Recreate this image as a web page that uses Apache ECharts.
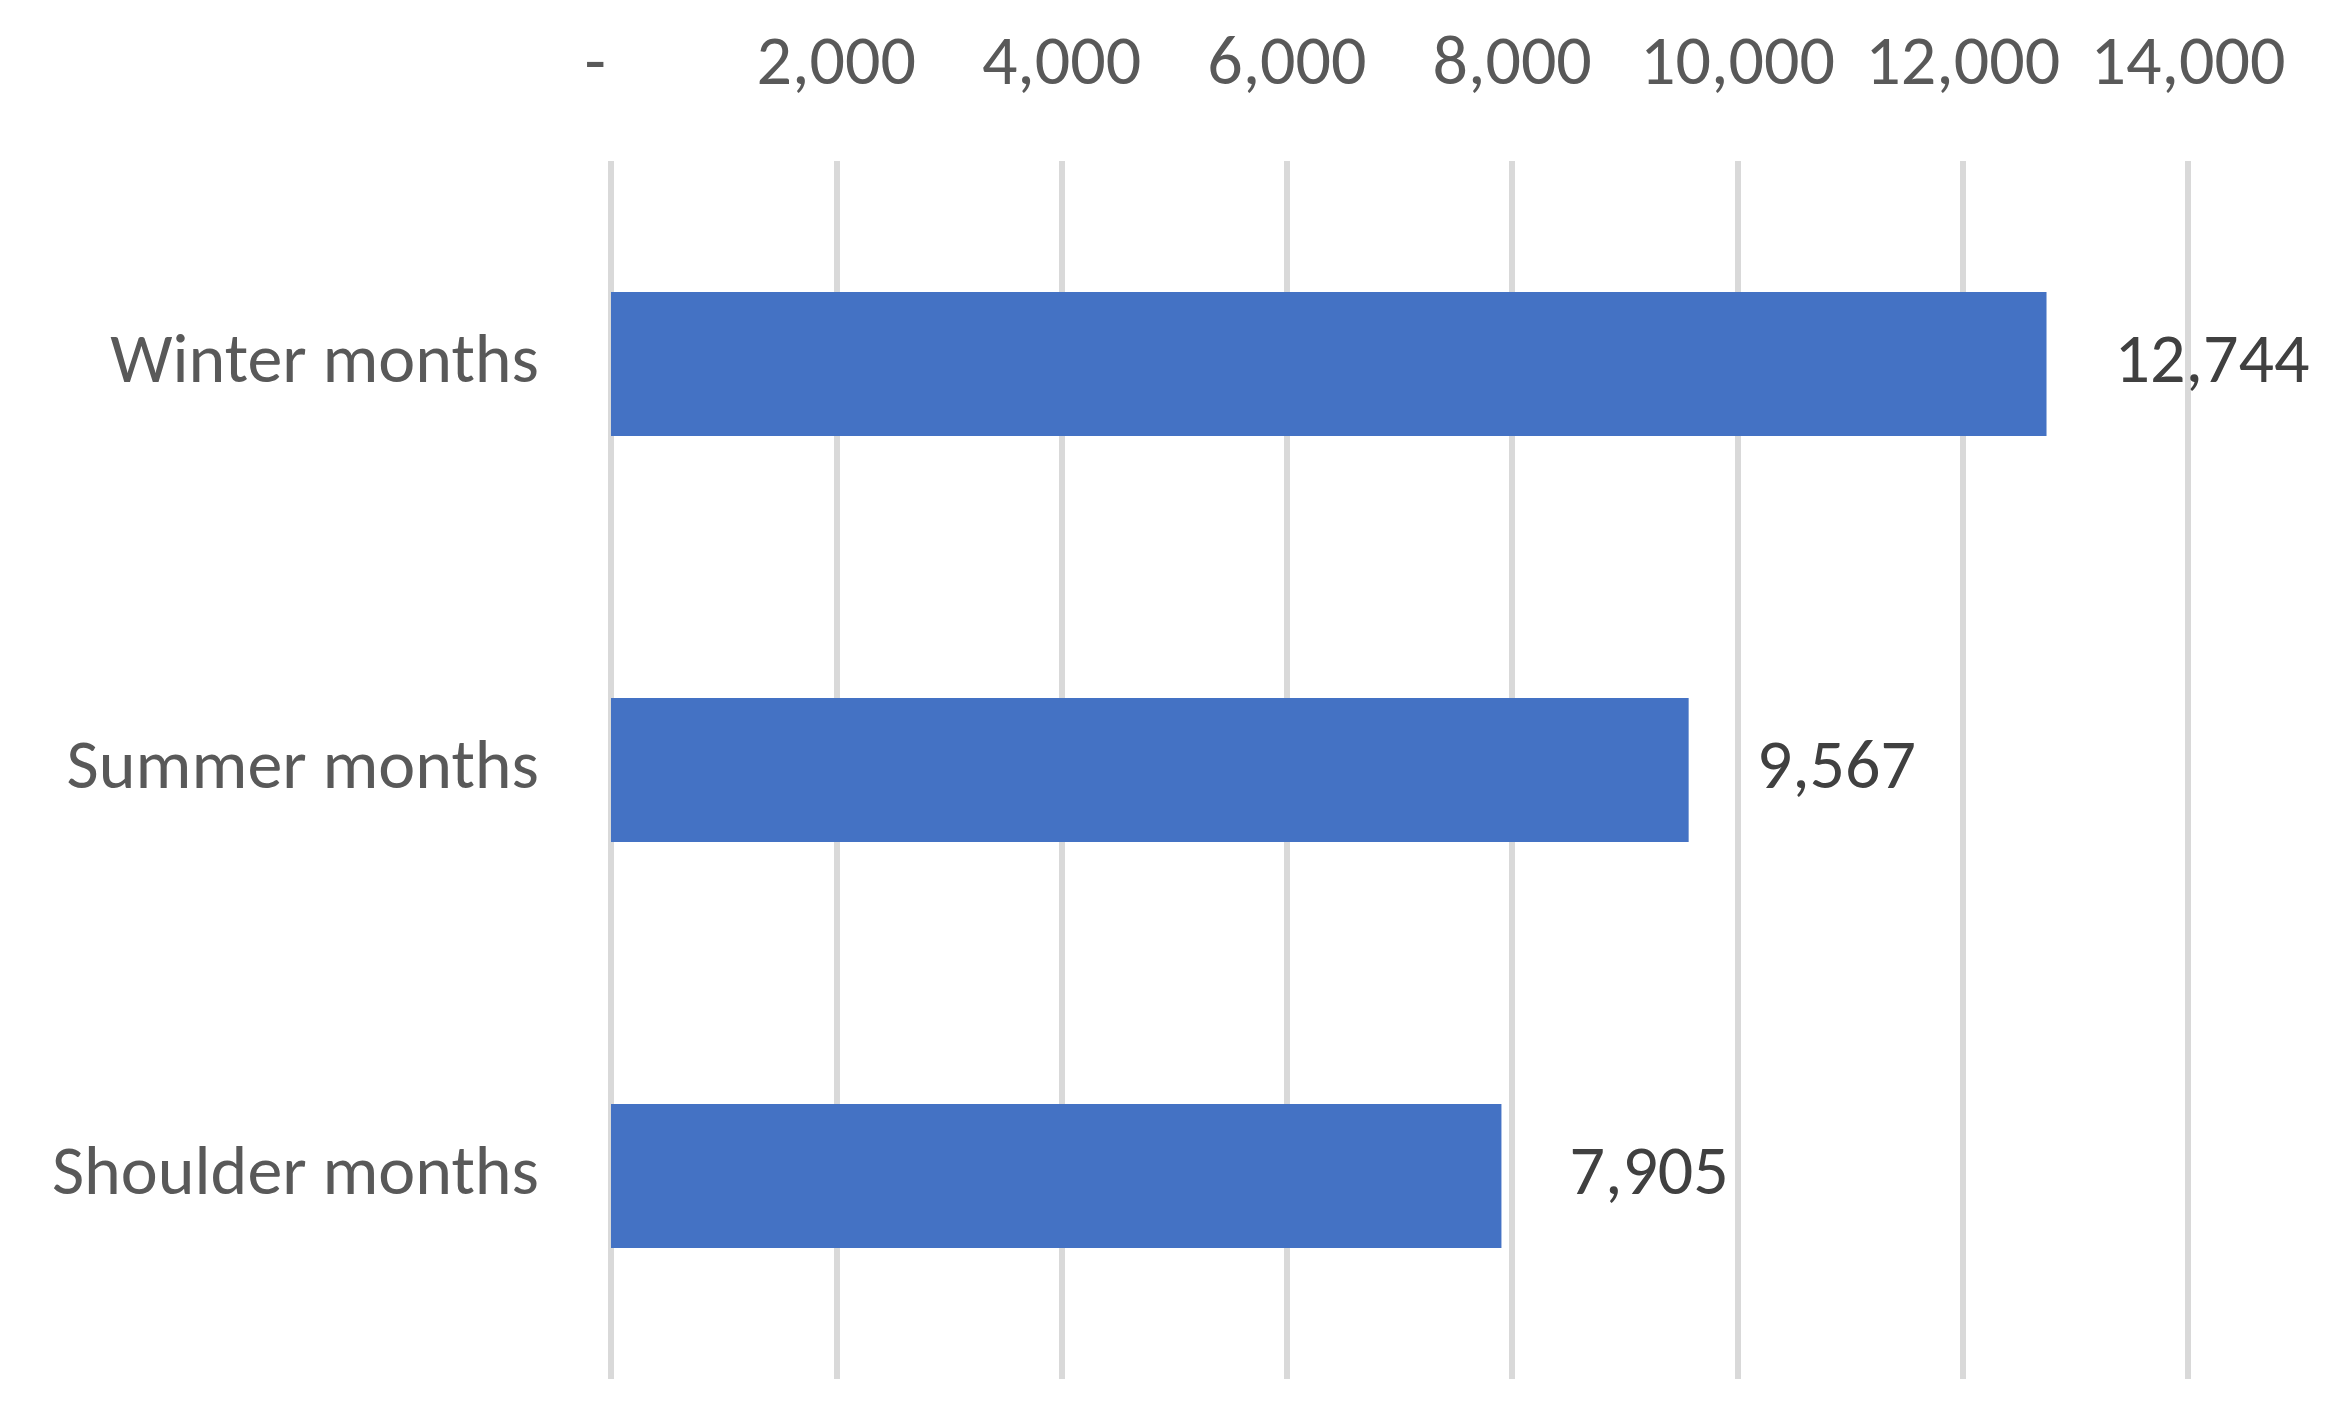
<!DOCTYPE html>
<html>
<head>
<meta charset="utf-8">
<script src="https://cdn.jsdelivr.net/npm/echarts@6/dist/echarts.min.js"></script>
<style>
  html, body { margin: 0; padding: 0; background: #fff; }
  #chart { width: 2344px; height: 1416px; }
</style>
</head>
<body>
<div id="chart"></div>
<script>
const categories = ['Winter months', 'Summer months', 'Shoulder months']
const values = [12744, 9567, 7905]
const tickMin = 0
const tickMax = 14000
const tickStep = 2000

const fontFamily = 'Carlito, Lato, "Open Sans", sans-serif'

const fmt = (v) => v === 0 ? '-  ' : v.toLocaleString('en-US')

const chart = echarts.init(document.getElementById('chart'))
chart.setOption({
  animation: false,
  backgroundColor: '#ffffff',
  grid: { left: 611, right: 156, top: 161, bottom: 37 },
  xAxis: {
    type: 'value',
    position: 'top',
    min: tickMin,
    max: tickMax,
    interval: tickStep,
    axisLine: { show: false },
    axisTick: { show: false },
    axisLabel: {
      color: '#595959',
      fontSize: 70,
      fontFamily: fontFamily,
      margin: 60,
      formatter: fmt
    },
    splitLine: { show: true, lineStyle: { color: '#D9D9D9', width: 6 } }
  },
  yAxis: {
    type: 'category',
    data: categories,
    inverse: true,
    axisLine: { show: false },
    axisTick: { show: false },
    axisLabel: {
      color: '#595959',
      fontSize: 70,
      fontFamily: fontFamily,
      margin: 72
    }
  },
  series: [{
    type: 'bar',
    data: values,
    barWidth: '35.5%',
    itemStyle: { color: '#4472C4' },
    label: {
      show: true,
      position: 'right',
      distance: 68,
      color: '#404040',
      fontSize: 70,
      fontFamily: fontFamily,
      formatter: (p) => fmt(p.value)
    }
  }]
})
</script>
</body>
</html>
